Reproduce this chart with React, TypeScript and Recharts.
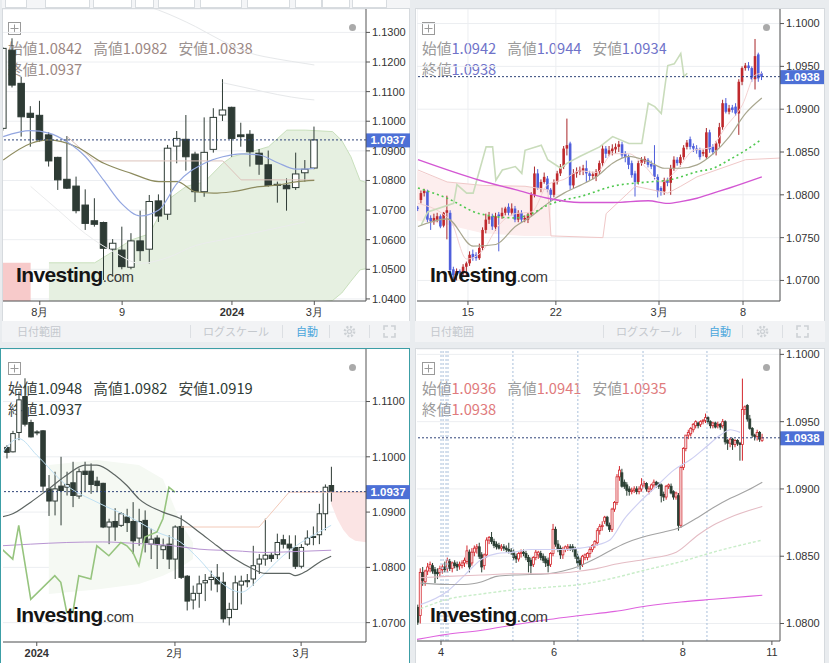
import React from 'react';
import { ComposedChart, Bar, Line, Area, XAxis, YAxis, CartesianGrid, ReferenceLine } from 'recharts';

type Ohlc = [number, number, number, number];
type Knot = [number, number];
type Band = [number, number, number];

const FONT = '"Liberation Sans", Arial, sans-serif';
const JP = '"Noto Sans CJK JP", "Noto Sans", sans-serif';
const OHLC_LABELS = ['始値', '高値', '安値', '終値'];

// ---- top-left: weekly ----
const weeklyCandles: Ohlc[] = [
  [1.0976, 1.1250, 1.0968, 1.1246], [1.1240, 1.1280, 1.1114, 1.1122], [1.1128, 1.1150, 1.0948, 1.1015],
  [1.1027, 1.1051, 1.0914, 1.1013], [1.1020, 1.1069, 1.0931, 1.0937], [1.0954, 1.0963, 1.0847, 1.0866],
  [1.0878, 1.0880, 1.0768, 1.0802], [1.0804, 1.0950, 1.0771, 1.0774], [1.0781, 1.0813, 1.0689, 1.0698],
  [1.0717, 1.0770, 1.0633, 1.0655], [1.0664, 1.0740, 1.0644, 1.0652], [1.0658, 1.0661, 1.0464, 1.0571],
  [1.0568, 1.0602, 1.0476, 1.0588], [1.0565, 1.0644, 1.0500, 1.0509], [1.0507, 1.0622, 1.0500, 1.0596],
  [1.0596, 1.0698, 1.0528, 1.0563], [1.0568, 1.0751, 1.0520, 1.0729], [1.0731, 1.0753, 1.0660, 1.0680],
  [1.0686, 1.0920, 1.0667, 1.0909], [1.0916, 1.0967, 1.0858, 1.0942], [1.0939, 1.1021, 1.0833, 1.0880],
  [1.0889, 1.0897, 1.0727, 1.0762], [1.0762, 1.1013, 1.0745, 1.0895], [1.0905, 1.1044, 1.0894, 1.1013],
  [1.1021, 1.1142, 1.1001, 1.1038], [1.1047, 1.1049, 1.0880, 1.0942], [1.0954, 1.0995, 1.0914, 1.0948],
  [1.0956, 1.0970, 1.0847, 1.0897], [1.0892, 1.0906, 1.0819, 1.0855], [1.0853, 1.0901, 1.0779, 1.0783],
  [1.0787, 1.0796, 1.0725, 1.0784], [1.0784, 1.0807, 1.0698, 1.0772], [1.0776, 1.0894, 1.0768, 1.0822],
  [1.0826, 1.0869, 1.0796, 1.0838], [1.0842, 1.0982, 1.0838, 1.0937],
];
const weeklyXTicks = [4, 13, 25, 34];
const weeklyXLabels = ['8月', '9', '2024', '3月'];
const weeklyYTicks = [1.04, 1.05, 1.06, 1.07, 1.08, 1.09, 1.10, 1.11, 1.12, 1.13];
const weeklyBlue: Knot[] = [[0, 1.0948], [3, 1.0968], [5, 1.0960], [7, 1.0930], [9, 1.0880], [11, 1.0800], [13, 1.0720], [15, 1.0680], [17, 1.0700], [19, 1.0790], [22, 1.0858], [24, 1.0880], [26, 1.0890], [28, 1.0886], [30, 1.0860], [32, 1.0838], [34, 1.0841]];
const weeklyOlive: Knot[] = [[0, 1.0869], [3, 1.0925], [5, 1.0937], [8, 1.0914], [11, 1.0858], [14, 1.0824], [17, 1.0796], [19, 1.0796], [21, 1.0762], [23, 1.0757], [25, 1.0762], [28, 1.0779], [30, 1.0785], [32, 1.0795], [34, 1.0800]];
const weeklyKijun: Knot[] = [[7, 1.0948], [10, 1.0866], [24, 1.0866], [26, 1.0802], [34, 1.0802]];
const weeklyFaintA: Knot[] = [[12, 1.1420], [17, 1.1375], [21, 1.1320], [24, 1.1270], [27, 1.1230], [30, 1.1210], [33, 1.1195], [34, 1.1190]];
const weeklyFaintB: Knot[] = [[24, 1.1130], [27, 1.1110], [30, 1.1090], [33, 1.1075], [34, 1.1072]];
const weeklyFaintC: Knot[] = [[3, 1.0780], [6, 1.0700], [9, 1.0620], [12, 1.0560], [15, 1.0520], [18, 1.0540], [21, 1.0580], [24, 1.0600], [27, 1.0620], [30, 1.0640], [33, 1.0660]];
const weeklyCloudGreen: Band[] = [[5, 1.0385, 1.0522], [10, 1.0385, 1.0522], [12, 1.0385, 1.0560], [14, 1.0385, 1.0599], [16, 1.0385, 1.0620], [17, 1.0385, 1.0680], [18, 1.0385, 1.0735], [20, 1.0385, 1.0780], [22, 1.0385, 1.0795], [24, 1.0385, 1.0858], [25, 1.0385, 1.0880], [27, 1.0385, 1.0896], [29, 1.0385, 1.0914], [31, 1.0385, 1.0970], [33, 1.0385, 1.0970], [36, 1.0395, 1.0965], [37, 1.0420, 1.0935], [38, 1.0460, 1.0880], [39, 1.0498, 1.0800], [40, 1.0505, 1.0790]];
const weeklyCloudRed: Band[] = [[-1, 1.0385, 1.0522], [3, 1.0385, 1.0522]];

// ---- top-right: 4h ----
const h4Candles: Ohlc[] = [
  [1.0785, 1.0787, 1.0781, 1.0784], [1.0794, 1.0805, 1.0790, 1.0802], [1.0802, 1.0807, 1.0798, 1.0805], [1.0804, 1.0806, 1.0768, 1.0771],
  [1.0773, 1.0776, 1.0759, 1.0769], [1.0769, 1.0778, 1.0765, 1.0773], [1.0771, 1.0779, 1.0768, 1.0775], [1.0775, 1.0777, 1.0761, 1.0763],
  [1.0764, 1.0780, 1.0762, 1.0779], [1.0779, 1.0799, 1.0748, 1.0782], [1.0779, 1.0782, 1.0708, 1.0712], [1.0713, 1.0716, 1.0702, 1.0706],
  [1.0706, 1.0714, 1.0700, 1.0711], [1.0711, 1.0713, 1.0702, 1.0708], [1.0708, 1.0719, 1.0704, 1.0716], [1.0716, 1.0722, 1.0704, 1.0720],
  [1.0720, 1.0734, 1.0717, 1.0730], [1.0731, 1.0736, 1.0723, 1.0726], [1.0730, 1.0733, 1.0723, 1.0726], [1.0726, 1.0743, 1.0724, 1.0738],
  [1.0738, 1.0762, 1.0735, 1.0759], [1.0759, 1.0778, 1.0755, 1.0771], [1.0771, 1.0780, 1.0766, 1.0775], [1.0775, 1.0778, 1.0759, 1.0763],
  [1.0762, 1.0779, 1.0758, 1.0775], [1.0777, 1.0780, 1.0734, 1.0775], [1.0775, 1.0785, 1.0772, 1.0779], [1.0779, 1.0786, 1.0776, 1.0784],
  [1.0786, 1.0790, 1.0776, 1.0779], [1.0779, 1.0790, 1.0776, 1.0784], [1.0784, 1.0787, 1.0768, 1.0771], [1.0771, 1.0782, 1.0768, 1.0779],
  [1.0779, 1.0782, 1.0768, 1.0771], [1.0771, 1.0776, 1.0768, 1.0773], [1.0771, 1.0779, 1.0767, 1.0777], [1.0777, 1.0803, 1.0775, 1.0800],
  [1.0800, 1.0833, 1.0797, 1.0825], [1.0825, 1.0830, 1.0806, 1.0808], [1.0808, 1.0818, 1.0803, 1.0815], [1.0815, 1.0826, 1.0813, 1.0821],
  [1.0819, 1.0822, 1.0803, 1.0806], [1.0806, 1.0808, 1.0792, 1.0800], [1.0800, 1.0818, 1.0797, 1.0815], [1.0815, 1.0828, 1.0812, 1.0825],
  [1.0825, 1.0836, 1.0822, 1.0833], [1.0833, 1.0857, 1.0830, 1.0854], [1.0854, 1.0889, 1.0846, 1.0858], [1.0860, 1.0862, 1.0806, 1.0811],
  [1.0811, 1.0830, 1.0808, 1.0825], [1.0825, 1.0832, 1.0820, 1.0827], [1.0827, 1.0833, 1.0823, 1.0829], [1.0828, 1.0835, 1.0823, 1.0831],
  [1.0831, 1.0840, 1.0815, 1.0825], [1.0825, 1.0828, 1.0817, 1.0822], [1.0822, 1.0827, 1.0818, 1.0824], [1.0821, 1.0830, 1.0816, 1.0827],
  [1.0827, 1.0840, 1.0824, 1.0837], [1.0837, 1.0858, 1.0833, 1.0854], [1.0854, 1.0857, 1.0843, 1.0848], [1.0848, 1.0857, 1.0845, 1.0852],
  [1.0851, 1.0859, 1.0846, 1.0854], [1.0853, 1.0860, 1.0848, 1.0856], [1.0856, 1.0863, 1.0850, 1.0859], [1.0859, 1.0862, 1.0843, 1.0846],
  [1.0848, 1.0851, 1.0838, 1.0844], [1.0844, 1.0847, 1.0830, 1.0835], [1.0837, 1.0840, 1.0820, 1.0823], [1.0825, 1.0828, 1.0798, 1.0815],
  [1.0815, 1.0840, 1.0812, 1.0837], [1.0837, 1.0844, 1.0834, 1.0841], [1.0839, 1.0845, 1.0836, 1.0842], [1.0841, 1.0843, 1.0832, 1.0835],
  [1.0836, 1.0840, 1.0830, 1.0833], [1.0835, 1.0858, 1.0818, 1.0821], [1.0821, 1.0824, 1.0797, 1.0804], [1.0808, 1.0810, 1.0799, 1.0804],
  [1.0804, 1.0820, 1.0800, 1.0817], [1.0817, 1.0820, 1.0810, 1.0814], [1.0814, 1.0835, 1.0800, 1.0831], [1.0831, 1.0845, 1.0828, 1.0841],
  [1.0841, 1.0844, 1.0834, 1.0837], [1.0837, 1.0847, 1.0833, 1.0844], [1.0844, 1.0858, 1.0841, 1.0855], [1.0856, 1.0864, 1.0853, 1.0861],
  [1.0865, 1.0868, 1.0853, 1.0856], [1.0857, 1.0860, 1.0850, 1.0854], [1.0854, 1.0858, 1.0848, 1.0852], [1.0852, 1.0855, 1.0841, 1.0844],
  [1.0848, 1.0853, 1.0845, 1.0850], [1.0844, 1.0878, 1.0842, 1.0873], [1.0873, 1.0876, 1.0849, 1.0853], [1.0856, 1.0859, 1.0847, 1.0850],
  [1.0852, 1.0863, 1.0846, 1.0860], [1.0860, 1.0884, 1.0856, 1.0879], [1.0879, 1.0911, 1.0876, 1.0907], [1.0907, 1.0913, 1.0895, 1.0897],
  [1.0897, 1.0905, 1.0894, 1.0901], [1.0902, 1.0905, 1.0896, 1.0899], [1.0903, 1.0907, 1.0892, 1.0895], [1.0895, 1.0935, 1.0870, 1.0932],
  [1.0932, 1.0950, 1.0928, 1.0948], [1.0948, 1.0954, 1.0945, 1.0951], [1.0951, 1.0955, 1.0945, 1.0948], [1.0948, 1.0950, 1.0932, 1.0935],
  [1.0935, 1.0982, 1.0923, 1.0962], [1.0964, 1.0966, 1.0932, 1.0936], [1.0942, 1.0944, 1.0934, 1.0938],
];
const h4XTicks = [15.4, 42.5, 74.3, 100.2];
const h4XLabels = ['15', '22', '3月', '8'];
const h4YTicks = [1.07, 1.075, 1.08, 1.085, 1.09, 1.095, 1.10];
const h4Magenta: Knot[] = [[0, 1.0841], [19, 1.0817], [30, 1.0806], [40, 1.0796], [50, 1.0791], [60, 1.0791], [71, 1.0793], [77, 1.0790], [81, 1.0792], [86, 1.0796], [91, 1.0802], [96, 1.0808], [106, 1.0821]];
const h4Dotted: Knot[] = [[0, 1.0808], [9, 1.0796], [19, 1.0778], [30, 1.0773], [35, 1.0778], [40, 1.0788], [45, 1.0794], [50, 1.0798], [60, 1.0810], [71, 1.0815], [77, 1.0817], [81, 1.0821], [86, 1.0827], [91, 1.0831], [96, 1.0841], [101, 1.0852], [106, 1.0865]];
const h4Gray: Knot[] = [[0, 1.0763], [9, 1.0772], [17, 1.0740], [24, 1.0742], [30, 1.0763], [35, 1.0775], [40, 1.0790], [45, 1.0802], [50, 1.0811], [55, 1.0821], [60, 1.0837], [65, 1.0845], [71, 1.0839], [76, 1.0831], [81, 1.0831], [86, 1.0835], [91, 1.0848], [96, 1.0868], [101, 1.0895], [106, 1.0913]];
const h4Lagging: Knot[] = [[1, 1.0765], [3, 1.0780], [11, 1.0790], [12, 1.0812], [15, 1.0802], [17, 1.0802], [19, 1.0829], [21, 1.0856], [23, 1.0856], [24, 1.0817], [26, 1.0829], [30, 1.0833], [32, 1.0825], [33, 1.0852], [38, 1.0858], [40, 1.0841], [44, 1.0831], [46, 1.0837], [50, 1.0845], [56, 1.0856], [60, 1.0868], [65, 1.0860], [69, 1.0860], [71, 1.0907], [73, 1.0903], [75, 1.0895], [77, 1.0951], [79, 1.0953], [81, 1.0965], [82, 1.0938], [83, 1.0942]];
const h4Fast: Knot[] = [[0, 1.0790], [10, 1.0770], [15, 1.0725], [20, 1.0735], [25, 1.0765], [30, 1.0778], [35, 1.0780], [40, 1.0812], [45, 1.0818], [50, 1.0828], [55, 1.0826], [60, 1.0848], [65, 1.0848], [70, 1.0833], [75, 1.0815], [80, 1.0830], [85, 1.0852], [90, 1.0855], [95, 1.0880], [100, 1.0905], [104, 1.0940], [106, 1.0942]];
const h4SpanB: Knot[] = [[0, 1.0829], [9, 1.0815], [20, 1.0811], [33, 1.0810], [40, 1.0806], [41, 1.0752], [57, 1.0750], [58, 1.0778], [67, 1.0810], [77, 1.0802], [81, 1.0810], [86, 1.0821], [101, 1.0841], [112, 1.0843]];
const h4Cloud: Band[] = [[-1, 1.0770, 1.0829], [9, 1.0765, 1.0815], [20, 1.0755, 1.0811], [33, 1.0752, 1.0810], [41, 1.0752, 1.0806]];

// ---- bottom-left: daily ----
const dailyCandles: Ohlc[] = [
  [1.1017, 1.1021, 1.0997, 1.1008], [1.1009, 1.1047, 1.1008, 1.1042], [1.1044, 1.1118, 1.1030, 1.1103], [1.1109, 1.1142, 1.1055, 1.1059],
  [1.1062, 1.1067, 1.1035, 1.1036], [1.1044, 1.1048, 1.1039, 1.1045], [1.1047, 1.1048, 1.0936, 1.0947], [1.0942, 1.0967, 1.0893, 1.0920],
  [1.0920, 1.0973, 1.0894, 1.0942], [1.0947, 1.1000, 1.0876, 1.0939], [1.0945, 1.0973, 1.0930, 1.0950], [1.0953, 1.0991, 1.0909, 1.0930],
  [1.0929, 1.0979, 1.0924, 1.0973], [1.0974, 1.0991, 1.0936, 1.0968], [1.0974, 1.0988, 1.0933, 1.0950], [1.0956, 1.0964, 1.0936, 1.0948],
  [1.0952, 1.0953, 1.0871, 1.0873], [1.0873, 1.0888, 1.0842, 1.0882], [1.0883, 1.0907, 1.0848, 1.0873], [1.0876, 1.0900, 1.0873, 1.0897],
  [1.0891, 1.0906, 1.0864, 1.0881], [1.0883, 1.0918, 1.0824, 1.0848], [1.0853, 1.0906, 1.0839, 1.0883], [1.0885, 1.0903, 1.0827, 1.0845],
  [1.0842, 1.0870, 1.0815, 1.0851], [1.0853, 1.0858, 1.0797, 1.0841], [1.0832, 1.0852, 1.0815, 1.0839], [1.0842, 1.0858, 1.0797, 1.0815],
  [1.0815, 1.0876, 1.0779, 1.0873], [1.0874, 1.0894, 1.0779, 1.0782], [1.0784, 1.0786, 1.0722, 1.0739], [1.0741, 1.0767, 1.0724, 1.0753],
  [1.0753, 1.0785, 1.0727, 1.0770], [1.0772, 1.0788, 1.0739, 1.0776], [1.0778, 1.0794, 1.0758, 1.0782], [1.0782, 1.0806, 1.0755, 1.0770],
  [1.0773, 1.0791, 1.0700, 1.0707], [1.0709, 1.0736, 1.0695, 1.0724], [1.0724, 1.0785, 1.0724, 1.0772], [1.0768, 1.0785, 1.0733, 1.0775],
  [1.0774, 1.0788, 1.0764, 1.0776], [1.0779, 1.0839, 1.0767, 1.0803], [1.0806, 1.0824, 1.0788, 1.0815], [1.0815, 1.0888, 1.0803, 1.0822],
  [1.0822, 1.0827, 1.0810, 1.0816], [1.0823, 1.0861, 1.0815, 1.0845], [1.0850, 1.0859, 1.0834, 1.0842], [1.0842, 1.0858, 1.0815, 1.0835],
  [1.0836, 1.0858, 1.0797, 1.0802], [1.0802, 1.0842, 1.0798, 1.0836], [1.0842, 1.0867, 1.0839, 1.0853], [1.0854, 1.0874, 1.0840, 1.0856],
  [1.0859, 1.0915, 1.0842, 1.0897], [1.0897, 1.0950, 1.0867, 1.0945], [1.0948, 1.0982, 1.0919, 1.0937],
];
const dailyXTicks = [5, 28, 49];
const dailyXLabels = ['2024', '2月', '3月'];
const dailyYTicks = [1.07, 1.08, 1.09, 1.10, 1.11];
const dailyGray: Knot[] = [[-1, 1.0891], [1, 1.0897], [4, 1.0918], [7, 1.0942], [10, 1.0967], [13, 1.0985], [15, 1.0985], [18, 1.0967], [20, 1.0948], [22, 1.0924], [26, 1.0900], [29, 1.0888], [32, 1.0864], [35, 1.0839], [38, 1.0815], [41, 1.0797], [43, 1.0789], [47, 1.0789], [48, 1.0785], [50, 1.0794], [52, 1.0809], [54, 1.0820]];
const dailyPurple: Knot[] = [[-1, 1.0839], [4, 1.0842], [10, 1.0845], [16, 1.0846], [22, 1.0843], [27, 1.0840], [32, 1.0833], [38, 1.0830], [43, 1.0827], [49, 1.0829], [54, 1.0831]];
const dailyLagging: Knot[] = [[-1, 1.0835], [1, 1.0815], [2, 1.0876], [4, 1.0742], [8, 1.0785], [9, 1.0773], [10, 1.0718], [11, 1.0718], [12, 1.0785], [14, 1.0779], [15, 1.0839], [17, 1.0821], [19, 1.0845], [20, 1.0839], [21, 1.0827], [22, 1.0803], [23, 1.0855], [25, 1.0864], [26, 1.0888], [27, 1.0945], [28, 1.0936]];
const dailyBlue: Knot[] = [[-1, 1.1003], [2, 1.1033], [5, 1.1003], [10, 1.0948], [15, 1.0918], [21, 1.0888], [25, 1.0864], [29, 1.0845], [32, 1.0815], [35, 1.0779], [39, 1.0755], [42, 1.0779], [46, 1.0821], [49, 1.0845], [52, 1.0864], [54, 1.0876]];
const dailyPeach: Knot[] = [[29, 1.0873], [42, 1.0873], [47, 1.0936], [60, 1.0936]];
const dailyCloudGreen: Band[] = [[7, 1.0752, 1.0985], [15, 1.0760, 1.0994], [22, 1.0770, 1.0985], [26, 1.0785, 1.0960], [29, 1.0800, 1.0880], [31, 1.0815, 1.0845]];
const dailyCloudRed: Band[] = [[54, 1.0915, 1.0937], [55, 1.0888, 1.0937], [56, 1.0868, 1.0937], [57, 1.0855, 1.0937], [58, 1.0848, 1.0937], [60, 1.0845, 1.0937]];

// ---- bottom-right: 1h ----
const h1Candles: Ohlc[] = [
  [1.0812, 1.0814, 1.0799, 1.0801], [1.0806, 1.0841, 1.0800, 1.0838], [1.0838, 1.0842, 1.0828, 1.0832], [1.0831, 1.0840, 1.0828, 1.0839],
  [1.0839, 1.0845, 1.0836, 1.0842], [1.0841, 1.0846, 1.0838, 1.0844], [1.0843, 1.0845, 1.0837, 1.0839], [1.0840, 1.0842, 1.0830, 1.0837],
  [1.0838, 1.0841, 1.0833, 1.0837], [1.0838, 1.0843, 1.0835, 1.0841], [1.0840, 1.0844, 1.0837, 1.0842], [1.0842, 1.0846, 1.0838, 1.0840],
  [1.0841, 1.0849, 1.0838, 1.0847], [1.0846, 1.0848, 1.0839, 1.0841], [1.0841, 1.0846, 1.0838, 1.0845], [1.0845, 1.0847, 1.0841, 1.0843],
  [1.0844, 1.0846, 1.0839, 1.0842], [1.0843, 1.0846, 1.0840, 1.0844], [1.0843, 1.0847, 1.0841, 1.0845], [1.0845, 1.0849, 1.0842, 1.0847],
  [1.0846, 1.0858, 1.0844, 1.0854], [1.0853, 1.0855, 1.0838, 1.0842], [1.0845, 1.0856, 1.0843, 1.0853], [1.0853, 1.0858, 1.0850, 1.0856],
  [1.0856, 1.0859, 1.0852, 1.0857], [1.0857, 1.0860, 1.0848, 1.0850], [1.0851, 1.0853, 1.0838, 1.0842], [1.0843, 1.0852, 1.0840, 1.0851],
  [1.0851, 1.0864, 1.0849, 1.0862], [1.0862, 1.0865, 1.0859, 1.0864], [1.0864, 1.0868, 1.0859, 1.0861], [1.0861, 1.0863, 1.0856, 1.0858],
  [1.0859, 1.0861, 1.0855, 1.0857], [1.0858, 1.0860, 1.0855, 1.0856], [1.0856, 1.0859, 1.0854, 1.0857], [1.0857, 1.0859, 1.0854, 1.0856],
  [1.0856, 1.0858, 1.0853, 1.0855], [1.0855, 1.0860, 1.0852, 1.0854], [1.0854, 1.0856, 1.0851, 1.0853], [1.0853, 1.0855, 1.0847, 1.0849],
  [1.0850, 1.0852, 1.0845, 1.0848], [1.0848, 1.0853, 1.0846, 1.0852], [1.0852, 1.0855, 1.0849, 1.0853], [1.0853, 1.0855, 1.0850, 1.0852],
  [1.0852, 1.0854, 1.0847, 1.0849], [1.0849, 1.0851, 1.0838, 1.0846], [1.0847, 1.0849, 1.0837, 1.0843], [1.0844, 1.0850, 1.0842, 1.0849],
  [1.0849, 1.0855, 1.0847, 1.0853], [1.0851, 1.0854, 1.0848, 1.0853], [1.0852, 1.0854, 1.0847, 1.0849], [1.0850, 1.0852, 1.0845, 1.0847],
  [1.0848, 1.0850, 1.0842, 1.0845], [1.0847, 1.0849, 1.0838, 1.0843], [1.0844, 1.0853, 1.0842, 1.0852], [1.0852, 1.0874, 1.0850, 1.0870],
  [1.0870, 1.0872, 1.0857, 1.0859], [1.0859, 1.0862, 1.0853, 1.0855], [1.0856, 1.0858, 1.0848, 1.0851], [1.0851, 1.0857, 1.0848, 1.0855],
  [1.0855, 1.0858, 1.0853, 1.0857], [1.0856, 1.0859, 1.0854, 1.0857], [1.0857, 1.0859, 1.0854, 1.0856], [1.0857, 1.0859, 1.0853, 1.0855],
  [1.0855, 1.0857, 1.0848, 1.0850], [1.0850, 1.0852, 1.0843, 1.0845], [1.0847, 1.0849, 1.0840, 1.0843], [1.0844, 1.0851, 1.0842, 1.0850],
  [1.0849, 1.0852, 1.0847, 1.0851], [1.0849, 1.0853, 1.0847, 1.0852], [1.0852, 1.0857, 1.0849, 1.0855], [1.0855, 1.0859, 1.0853, 1.0858],
  [1.0858, 1.0862, 1.0856, 1.0861], [1.0860, 1.0871, 1.0858, 1.0869], [1.0869, 1.0874, 1.0866, 1.0872], [1.0872, 1.0876, 1.0869, 1.0873],
  [1.0876, 1.0880, 1.0874, 1.0879], [1.0879, 1.0880, 1.0872, 1.0873], [1.0873, 1.0875, 1.0868, 1.0870], [1.0870, 1.0886, 1.0868, 1.0885],
  [1.0885, 1.0891, 1.0883, 1.0890], [1.0890, 1.0911, 1.0888, 1.0909], [1.0909, 1.0917, 1.0906, 1.0914], [1.0912, 1.0915, 1.0901, 1.0902],
  [1.0905, 1.0907, 1.0900, 1.0902], [1.0903, 1.0905, 1.0895, 1.0899], [1.0900, 1.0902, 1.0895, 1.0898], [1.0898, 1.0901, 1.0896, 1.0899],
  [1.0899, 1.0902, 1.0897, 1.0900], [1.0900, 1.0902, 1.0896, 1.0898], [1.0898, 1.0902, 1.0896, 1.0900], [1.0900, 1.0908, 1.0898, 1.0903],
  [1.0903, 1.0906, 1.0901, 1.0904], [1.0904, 1.0905, 1.0898, 1.0900], [1.0898, 1.0902, 1.0896, 1.0900], [1.0900, 1.0904, 1.0898, 1.0903],
  [1.0903, 1.0907, 1.0901, 1.0905], [1.0905, 1.0906, 1.0901, 1.0903], [1.0904, 1.0905, 1.0900, 1.0902], [1.0903, 1.0904, 1.0890, 1.0895],
  [1.0896, 1.0898, 1.0891, 1.0894], [1.0894, 1.0903, 1.0892, 1.0902], [1.0902, 1.0904, 1.0900, 1.0903], [1.0902, 1.0904, 1.0896, 1.0897],
  [1.0898, 1.0899, 1.0892, 1.0894], [1.0894, 1.0898, 1.0892, 1.0897], [1.0895, 1.0897, 1.0869, 1.0873], [1.0873, 1.0917, 1.0871, 1.0916],
  [1.0916, 1.0931, 1.0914, 1.0930], [1.0930, 1.0940, 1.0928, 1.0940], [1.0940, 1.0944, 1.0937, 1.0942], [1.0941, 1.0946, 1.0939, 1.0945],
  [1.0944, 1.0949, 1.0942, 1.0948], [1.0947, 1.0951, 1.0945, 1.0950], [1.0949, 1.0950, 1.0945, 1.0947], [1.0948, 1.0951, 1.0946, 1.0950],
  [1.0950, 1.0952, 1.0948, 1.0951], [1.0951, 1.0956, 1.0949, 1.0953], [1.0953, 1.0954, 1.0948, 1.0950], [1.0950, 1.0951, 1.0945, 1.0947],
  [1.0947, 1.0950, 1.0945, 1.0949], [1.0949, 1.0950, 1.0945, 1.0946], [1.0947, 1.0950, 1.0945, 1.0948], [1.0948, 1.0949, 1.0944, 1.0946],
  [1.0947, 1.0952, 1.0945, 1.0950], [1.0950, 1.0951, 1.0933, 1.0935], [1.0936, 1.0937, 1.0929, 1.0934], [1.0934, 1.0938, 1.0931, 1.0937],
  [1.0937, 1.0938, 1.0929, 1.0933], [1.0933, 1.0937, 1.0931, 1.0936], [1.0936, 1.0937, 1.0932, 1.0934], [1.0934, 1.0935, 1.0921, 1.0933],
  [1.0933, 1.0982, 1.0921, 1.0959], [1.0959, 1.0962, 1.0955, 1.0961], [1.0962, 1.0963, 1.0950, 1.0952], [1.0952, 1.0955, 1.0944, 1.0945],
  [1.0945, 1.0946, 1.0938, 1.0940], [1.0940, 1.0941, 1.0936, 1.0939], [1.0939, 1.0944, 1.0936, 1.0942], [1.0942, 1.0943, 1.0935, 1.0937],
  [1.0936, 1.0941, 1.0935, 1.0938],
];
const h1XTicks = [9.35, 55.3, 107.7, 143.9];
const h1XLabels = ['4', '6', '8', '11'];
const h1YTicks = [1.08, 1.085, 1.09, 1.095, 1.10];
const h1Sessions = [9.35, 10.2, 11.4, 12.2, 38.6, 65, 91.5, 117.5];
const h1Lavender: Knot[] = [[1, 1.0814], [12, 1.0824], [19, 1.0836], [26, 1.0848], [32, 1.0852], [39, 1.0853], [46, 1.0855], [53, 1.0855], [59, 1.0855], [66, 1.0856], [72, 1.0858], [78, 1.0862], [84, 1.0878], [90, 1.0890], [97, 1.0902], [104, 1.0914], [111, 1.0922], [117, 1.0931], [123, 1.0940], [127, 1.0944], [131, 1.0942]];
const h1Gray: Knot[] = [[1, 1.0830], [12, 1.0829], [19, 1.0829], [26, 1.0831], [32, 1.0835], [39, 1.0836], [53, 1.0837], [59, 1.0839], [66, 1.0843], [73, 1.0849], [80, 1.0856], [86, 1.0861], [93, 1.0865], [100, 1.0868], [106, 1.0871], [113, 1.0878], [120, 1.0886], [127, 1.0893], [134, 1.0899], [140, 1.0905]];
const h1Pink: Knot[] = [[1, 1.0834], [12, 1.0835], [26, 1.0836], [39, 1.0837], [53, 1.0837], [66, 1.0839], [73, 1.0841], [80, 1.0844], [93, 1.0848], [105, 1.0853], [114, 1.0866], [120, 1.0873], [127, 1.0879], [140, 1.0887]];
const h1Green: Knot[] = [[1, 1.0811], [12, 1.0818], [26, 1.0822], [39, 1.0825], [53, 1.0827], [66, 1.0829], [80, 1.0834], [93, 1.0840], [107, 1.0846], [120, 1.0853], [140, 1.0862]];
const h1Magenta: Knot[] = [[-1, 1.0788], [12, 1.0792], [26, 1.0795], [39, 1.0799], [53, 1.0803], [66, 1.0806], [80, 1.0809], [93, 1.0813], [107, 1.0816], [120, 1.0818], [140, 1.0821]];

type LineSpec = { key: string; pts: Knot[]; color: string; width?: number; dash?: string; curve?: 'monotone' | 'linear' };
type BandSpec = { key: string; pts: Band[]; fill: string; edge?: string };
type CandleStyle = { up: string; upStroke: string; down: string; downStroke: string; wickUp: string; wickDown: string; body: number; stroke: number };

function buildRows(candles: Ohlc[], from: number, to: number, lines: LineSpec[], bands: BandSpec[]) {
  const rows: any[] = [];
  for (let i = from; i <= to; i++) {
    const row: any = { i };
    const c = candles[i];
    if (c) {
      row.o = c[0]; row.h = c[1]; row.l = c[2]; row.c = c[3];
      row.range = [c[2], c[1]];
    }
    rows.push(row);
  }
  const at = (i: number) => rows[i - from];
  lines.forEach((ln) => ln.pts.forEach(([i, v]) => { const r = at(i); if (r) r[ln.key] = v; }));
  bands.forEach((b) => b.pts.forEach(([i, lo, hi]) => { const r = at(i); if (r) r[b.key] = [lo, hi]; }));
  return rows;
}

function makeCandle(st: CandleStyle) {
  return (p: any) => {
    const d = p.payload;
    if (!d || d.o == null || !isFinite(p.y) || !isFinite(p.height)) return <g />;
    const top = Math.min(p.y, p.y + p.height);
    const span = Math.abs(p.height);
    const k = d.h > d.l ? span / (d.h - d.l) : 0;
    const cx = p.x + p.width / 2;
    const bull = d.c >= d.o;
    const y1 = top + (d.h - Math.max(d.o, d.c)) * k;
    const y2 = top + (d.h - Math.min(d.o, d.c)) * k;
    const bh = Math.max(1, y2 - y1);
    return (
      <g>
        <line x1={cx} x2={cx} y1={top} y2={top + span} stroke={bull ? st.wickUp : st.wickDown} strokeWidth={1} />
        <rect x={cx - st.body / 2} y={y1} width={st.body} height={bh}
          fill={bull ? st.up : st.down} stroke={bull ? st.upStroke : st.downStroke} strokeWidth={st.stroke} />
      </g>
    );
  };
}

function priceTag(text: string, bg: string) {
  return (props: any) => {
    const vb = props.viewBox || {};
    const x = (vb.x ?? 0) + (vb.width ?? 0);
    const y = vb.y ?? 0;
    return (
      <g>
        <rect x={x} y={y - 6.5} width={44} height={14} fill={bg} />
        <text x={x + 22} y={y + 4.2} textAnchor="middle" fill="#fff" fontSize={11.5} fontWeight={700} fontFamily={FONT}>{text}</text>
      </g>
    );
  };
}

function makeXTick(ticks: number[], labels: string[]) {
  return (p: any) => {
    const idx = ticks.findIndex((t) => Math.abs(t - p.payload.value) < 1e-6);
    const label = idx >= 0 ? labels[idx] : '';
    return (
      <text x={p.x} y={p.y} dy="0.75em" textAnchor="middle" fontSize={11} fill="#333"
        fontWeight={label === '2024' ? 700 : 400} fontFamily={FONT}>{label}</text>
    );
  };
}

function Header({ left, top, c, labelColor, valueColor }: { left: number; top: number; c: Ohlc; labelColor: string; valueColor: string }) {
  const item = (n: number, gap: boolean) => (
    <span key={n} style={{ marginRight: gap ? 11 : 0 }}>
      <span style={{ color: labelColor }}>{OHLC_LABELS[n]}</span>
      <span style={{ color: valueColor }}>{c[n].toFixed(4)}</span>
    </span>
  );
  return (
    <div style={{ position: 'absolute', left, top, fontFamily: JP, fontSize: 14.7, lineHeight: '21px', whiteSpace: 'nowrap' }}>
      <div>{item(0, true)}{item(1, true)}{item(2, false)}</div>
      <div>{item(3, false)}</div>
    </div>
  );
}

function Watermark({ left, top }: { left: number; top: number }) {
  return (
    <div style={{ position: 'absolute', left, top, fontFamily: FONT, whiteSpace: 'nowrap', lineHeight: '24px' }}>
      <span style={{ fontSize: 21, fontWeight: 700, color: '#151515', letterSpacing: -0.6 }}>Investing</span>
      <span style={{ fontSize: 15, color: '#3a3a3a', letterSpacing: -0.4 }}>.com</span>
    </div>
  );
}

function Toolbar({ left, top, width }: { left: number; top: number; width: number }) {
  const sep = (x: number) => <div style={{ position: 'absolute', left: x, top: 4, width: 1, height: 13, background: '#dcdfe3' }} />;
  return (
    <div style={{ position: 'absolute', left, top, width, height: 21, background: '#f2f3f5', fontFamily: JP, fontSize: 11, lineHeight: '21px', color: '#c4c8cd' }}>
      <span style={{ position: 'absolute', left: 15 }}>日付範囲</span>
      {sep(188)}
      <span style={{ position: 'absolute', left: 201 }}>ログスケール</span>
      {sep(280)}
      <span style={{ position: 'absolute', left: 294, color: '#4aa6dc' }}>自動</span>
      {sep(327)}
      <svg style={{ position: 'absolute', left: 341, top: 4 }} width={13} height={13}>
        <circle cx={6.5} cy={6.5} r={4.6} fill="none" stroke="#cdd1d5" strokeWidth={2.6} strokeDasharray="2 1.6" />
        <circle cx={6.5} cy={6.5} r={2.6} fill="#cdd1d5" />
        <circle cx={6.5} cy={6.5} r={1.3} fill="#f2f3f5" />
      </svg>
      {sep(367)}
      <svg style={{ position: 'absolute', left: 381, top: 4 }} width={13} height={13}>
        <path d="M1 5V1h4M8 1h4v4M12 8v4H8M5 12H1V8" fill="none" stroke="#cdd1d5" strokeWidth={1.6} />
      </svg>
    </div>
  );
}

function ChartPanel(props: {
  frame: { left: number; top: number; width: number; height: number; border: string };
  plot: { x: number; y: number; w: number; h: number };
  candles: Ohlc[];
  xDomain: [number, number];
  yDomain: [number, number];
  yTicks: number[];
  xTicks: number[];
  xLabels: string[];
  lines: LineSpec[];
  bands: BandSpec[];
  style: CandleStyle;
  labelColor: string;
  valueColor: string;
  tagColor: string;
  vGrid?: boolean;
  sessions?: number[];
  toolbar?: boolean;
}) {
  const { frame, plot, candles, xDomain, yDomain } = props;
  const rows = buildRows(candles, Math.floor(xDomain[0]), Math.ceil(xDomain[1]), props.lines, props.bands);
  const last = candles[candles.length - 1];
  const YW = 46;
  const XH = 22;
  return (
    <>
      <div style={{ position: 'absolute', left: frame.left, top: frame.top, width: frame.width, height: frame.height, background: '#fff', boxSizing: 'border-box', border: `1px solid ${frame.border}` }} />
      <Header left={plot.x + 5} top={plot.y + 28} c={last} labelColor={props.labelColor} valueColor={props.valueColor} />
      <svg style={{ position: 'absolute', left: plot.x + 5, top: plot.y + 13 }} width={13} height={13}>
        <rect x={0.5} y={0.5} width={12} height={12} fill="none" stroke="#9a9a9a" />
        <path d="M6.5 2.5v8M2.5 6.5h8" stroke="#9a9a9a" />
      </svg>
      <div style={{ position: 'absolute', left: plot.x + plot.w - 17, top: plot.y + 15, width: 7, height: 7, borderRadius: 4, background: '#aaa' }} />
      <div style={{ position: 'absolute', left: plot.x, top: plot.y }}>
        <ComposedChart width={plot.w + YW} height={plot.h + XH} data={rows} margin={{ top: 0, right: 0, bottom: 0, left: 0 }}>
          <CartesianGrid stroke="#eceef1" vertical={!!props.vGrid} />
          <XAxis dataKey="i" type="number" domain={xDomain} allowDataOverflow ticks={props.xTicks} interval={0}
            height={XH} tickSize={4} tickMargin={3} stroke="#555" tick={makeXTick(props.xTicks, props.xLabels)} />
          <YAxis orientation="right" type="number" domain={yDomain} allowDataOverflow ticks={props.yTicks} interval={0}
            width={YW} tickSize={4} tickMargin={2} stroke="#555"
            tick={{ fontSize: 11, fill: '#333', fontFamily: FONT }} tickFormatter={(v: number) => v.toFixed(4)} />
          {(props.sessions || []).map((s) => (
            <ReferenceLine key={s} x={s} stroke="#a9bfda" strokeDasharray="2 2" />
          ))}
          {props.bands.map((b) => (
            <Area key={b.key} dataKey={b.key} type="linear" stroke={b.edge || 'none'} strokeWidth={1} fill={b.fill} fillOpacity={1}
              connectNulls isAnimationActive={false} />
          ))}
          {props.lines.map((ln) => (
            <Line key={ln.key} dataKey={ln.key} type={ln.curve || 'monotone'} stroke={ln.color} strokeWidth={ln.width ?? 1}
              strokeDasharray={ln.dash} dot={false} activeDot={false} connectNulls isAnimationActive={false} />
          ))}
          <Bar dataKey="range" barSize={Math.max(1, props.style.body)} shape={makeCandle(props.style)} isAnimationActive={false} />
          <ReferenceLine y={last[3]} stroke="#2f4478" strokeDasharray="2 2" label={priceTag(last[3].toFixed(4), props.tagColor)} />
        </ComposedChart>
      </div>
      <Watermark left={plot.x + 13} top={plot.y + 254} />
      {props.toolbar && <Toolbar left={frame.left} top={plot.y + plot.h + 20} width={frame.width} />}
    </>
  );
}

const darkStyle: CandleStyle = { up: '#ffffff', upStroke: '#2e3b35', down: '#2e3b35', downStroke: '#2e3b35', wickUp: '#2e3b35', wickDown: '#2e3b35', body: 6.5, stroke: 1 };

export default function App() {
  return (
    <div style={{ position: 'absolute', left: 0, top: 0, width: 829, height: 663, background: '#e9ecef', overflow: 'hidden', fontFamily: FONT }}>
      <div style={{ position: 'absolute', left: 2, top: 0, width: 408, height: 8, background: '#f4f5f7', overflow: 'hidden' }}>
        {[[3, 20], [43, 43], [91, 37], [133, 17], [156, 35], [198, 40], [245, 41], [293, 25], [320, 26], [350, 33]].map(([x, w]) => (
          <div key={x} style={{ position: 'absolute', left: x, top: -4, width: w, height: 10, background: '#fff', border: '1px solid #d8dce0' }} />
        ))}
      </div>

      <ChartPanel
        frame={{ left: 2, top: 8, width: 408, height: 334, border: '#d6dade' }}
        plot={{ x: 3, y: 9, w: 363, h: 292 }}
        candles={weeklyCandles}
        xDomain={[-0.02, 39.65]} yDomain={[1.0393, 1.1379]}
        yTicks={weeklyYTicks} xTicks={weeklyXTicks} xLabels={weeklyXLabels}
        bands={[
          { key: 'cg', pts: weeklyCloudGreen, fill: '#e6f0e1', edge: '#c9e0bd' },
          { key: 'cr', pts: weeklyCloudRed, fill: '#f7caca' },
        ]}
        lines={[
          { key: 'fa', pts: weeklyFaintA, color: '#e6e8ea' },
          { key: 'fb', pts: weeklyFaintB, color: '#e6e8ea' },
          { key: 'fc', pts: weeklyFaintC, color: '#ebeced' },
          { key: 'kj', pts: weeklyKijun, color: '#dcc3bb', curve: 'linear' },
          { key: 'ol', pts: weeklyOlive, color: '#8d8b5e', width: 1.2 },
          { key: 'bl', pts: weeklyBlue, color: '#93a6e0', width: 1.2 },
        ]}
        style={darkStyle}
        labelColor="#9b9290" valueColor="#9c8783" tagColor="#4d70d6" toolbar
      />

      <ChartPanel
        frame={{ left: 415, top: 8, width: 410, height: 334, border: '#d6dade' }}
        plot={{ x: 417, y: 9, w: 363, h: 292 }}
        candles={h4Candles}
        xDomain={[-0.31, 111.6]} yDomain={[1.0676, 1.1017]}
        yTicks={h4YTicks} xTicks={h4XTicks} xLabels={h4XLabels} vGrid
        bands={[{ key: 'cp', pts: h4Cloud, fill: '#fdeeee' }]}
        lines={[
          { key: 'sb', pts: h4SpanB, color: '#f0c8c8', curve: 'linear' },
          { key: 'fs', pts: h4Fast, color: '#f4d2d2' },
          { key: 'lg', pts: h4Lagging, color: '#c9dcbb', width: 1.6, curve: 'linear' },
          { key: 'gr', pts: h4Gray, color: '#a9a78f', width: 1.2 },
          { key: 'dt', pts: h4Dotted, color: '#4fc84f', width: 1.6, dash: '2 3' },
          { key: 'mg', pts: h4Magenta, color: '#d357d3', width: 1.4 },
        ]}
        style={{ up: '#c0292d', upStroke: '#c0292d', down: '#4f5fdc', downStroke: '#4f5fdc', wickUp: '#a82528', wickDown: '#4f5fdc', body: 2.6, stroke: 0 }}
        labelColor="#9a9a9a" valueColor="#6f73c9" tagColor="#4d70d6" toolbar
      />

      <ChartPanel
        frame={{ left: 0, top: 348, width: 410, height: 320, border: '#3c9ea6' }}
        plot={{ x: 3, y: 349, w: 363, h: 293 }}
        candles={dailyCandles}
        xDomain={[-0.62, 59.8]} yDomain={[1.0665, 1.1195]}
        yTicks={dailyYTicks} xTicks={dailyXTicks} xLabels={dailyXLabels}
        bands={[
          { key: 'cg', pts: dailyCloudGreen, fill: '#f5f9f3' },
          { key: 'cr', pts: dailyCloudRed, fill: '#fbe4e4' },
        ]}
        lines={[
          { key: 'pe', pts: dailyPeach, color: '#f2c9b8', curve: 'linear' },
          { key: 'bl', pts: dailyBlue, color: '#bfe0f2' },
          { key: 'pu', pts: dailyPurple, color: '#b895d2' },
          { key: 'lg', pts: dailyLagging, color: '#96c47e', width: 1.6, curve: 'linear' },
          { key: 'gy', pts: dailyGray, color: '#5d6562', width: 1.2 },
        ]}
        style={{ ...darkStyle, body: 4.5 }}
        labelColor="#3d4440" valueColor="#2e3b35" tagColor="#4d70d6"
      />

      <ChartPanel
        frame={{ left: 415, top: 348, width: 410, height: 320, border: '#d6dade' }}
        plot={{ x: 417, y: 349, w: 363, h: 292 }}
        candles={h1Candles}
        xDomain={[-0.41, 147.2]} yDomain={[1.0787, 1.1004]}
        yTicks={h1YTicks} xTicks={h1XTicks} xLabels={h1XLabels} sessions={h1Sessions}
        bands={[]}
        lines={[
          { key: 'lv', pts: h1Lavender, color: '#cfd0f2', width: 1.2 },
          { key: 'gy', pts: h1Gray, color: '#a3a3a3', width: 1.1 },
          { key: 'pk', pts: h1Pink, color: '#e4bcc4', width: 1.1 },
          { key: 'gn', pts: h1Green, color: '#c9edc9', width: 1.4, dash: '3 2' },
          { key: 'mg', pts: h1Magenta, color: '#de62de', width: 1.1 },
        ]}
        style={{ up: '#ffffff', upStroke: '#d3272d', down: '#2a3f33', downStroke: '#2a3f33', wickUp: '#d3272d', wickDown: '#2a3f33', body: 2, stroke: 0.8 }}
        labelColor="#9a9a9a" valueColor="#e07b7d" tagColor="#4d70d6"
      />
    </div>
  );
}
